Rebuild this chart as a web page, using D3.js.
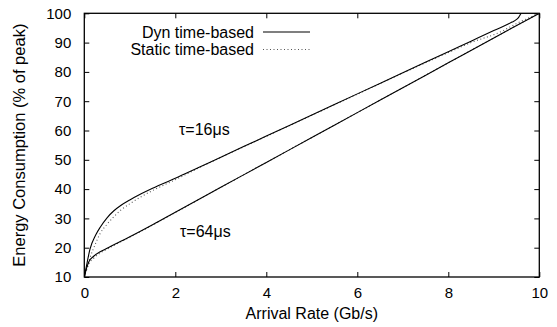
<!DOCTYPE html>
<html>
<head>
<meta charset="utf-8">
<script src="https://cdn.jsdelivr.net/npm/d3@7"></script>
<style>
  body { margin: 0; background: #fff; }
  svg text { font-family: "Liberation Sans", Arial, sans-serif; fill: #000; }
</style>
</head>
<body>
<svg id="chart" width="557" height="327"></svg>
<script>
// arrival rate (Gb/s) vs energy (% of peak)
const dyn16X    = [0, 0.05, 0.125, 0.25, 0.35, 0.5, 0.65, 0.8, 1, 1.25, 1.5, 2, 2.5, 3, 4, 5, 6, 7, 8, 8.5, 9, 9.4, 9.5, 9.55, 9.58, 9.6];
const dyn16Y    = [10, 14, 19.5, 24.3, 27, 30.2, 32.6, 34.4, 36.3, 38.4, 40.3, 43.7, 47.3, 50.9, 58.1, 65.3, 72.5, 79.7, 86.9, 90.5, 94.1, 97.0, 97.9, 98.7, 99.5, 100];
const static16X = [0, 0.05, 0.125, 0.25, 0.35, 0.5, 0.65, 0.8, 1, 1.25, 1.5, 2, 2.5, 3, 4, 5, 6, 7, 8, 8.5, 9.14, 9.5, 10];
const static16Y = [10, 12.5, 16.5, 21.5, 24.9, 28, 30.6, 32.8, 35.0, 37.4, 39.5, 43.2, 47.1, 50.8, 58.0, 65.2, 72.4, 79.6, 86.6, 90.0, 93.6, 96.5, 100];
const dyn64X    = [0, 0.05, 0.1, 0.2, 0.35, 0.5, 0.75, 1, 1.5, 2, 3, 4, 5, 6, 7, 8, 9, 10];
const dyn64Y    = [10, 13, 15.2, 17, 18.6, 19.8, 21.8, 23.7, 27.8, 32.1, 40.6, 49.1, 57.6, 66.1, 74.6, 83.1, 91.6, 100];
const static64X = [0, 0.05, 0.1, 0.2, 0.35, 0.5, 0.75, 1, 1.5, 2, 3, 4, 5, 6, 7, 8, 9, 10];
const static64Y = [10, 12.4, 14.5, 16.3, 18.2, 19.5, 21.6, 23.6, 27.7, 32.0, 40.6, 49.1, 57.6, 66.1, 74.6, 83.1, 91.6, 100];

const xTicks = [0, 2, 4, 6, 8, 10];
const yTicks = [10, 20, 30, 40, 50, 60, 70, 80, 90, 100];
const legendLabels = ['Dyn time-based', 'Static time-based'];

const svg = d3.select('#chart');
const mLeft = 84.3, mRight = 539.3, mTop = 13.3, mBottom = 277;

const x = d3.scaleLinear().domain([0, 10]).range([mLeft, mRight]);
const y = d3.scaleLinear().domain([10, 100]).range([mBottom, mTop]);

svg.append('defs').append('clipPath').attr('id', 'plot')
  .append('rect').attr('x', mLeft).attr('y', mTop)
  .attr('width', mRight - mLeft).attr('height', mBottom - mTop);

// axes, ticks pointing inward, mirrored on top/right
const axisStyle = g => {
  g.select('.domain').remove();
  g.selectAll('text').style('font-size', '15px');
};
svg.append('g').attr('transform', `translate(0,${mBottom})`)
  .call(d3.axisBottom(x).tickValues(xTicks).tickSize(-5).tickPadding(10).tickFormat(d3.format('d')))
  .call(axisStyle);
svg.append('g').attr('transform', `translate(${mLeft},0)`)
  .call(d3.axisLeft(y).tickValues(yTicks).tickSize(-5).tickPadding(13).tickFormat(d3.format('d')))
  .call(axisStyle);
svg.append('g').attr('transform', `translate(0,${mTop})`)
  .call(d3.axisTop(x).tickValues(xTicks).tickSize(-5).tickFormat(''))
  .call(axisStyle);
svg.append('g').attr('transform', `translate(${mRight},0)`)
  .call(d3.axisRight(y).tickValues(yTicks).tickSize(-5).tickFormat(''))
  .call(axisStyle);

svg.append('rect').attr('x', mLeft).attr('y', mTop)
  .attr('width', mRight - mLeft).attr('height', mBottom - mTop)
  .attr('fill', 'none').attr('stroke', '#000').attr('stroke-width', 1.3);

const line = d3.line().x(d => x(d[0])).y(d => y(d[1])).curve(d3.curveMonotoneX);
const zip = (a, b) => a.map((v, i) => [v, b[i]]);

const series = [
  { data: zip(static16X, static16Y), dash: '1,2.5', color: '#555' },
  { data: zip(static64X, static64Y), dash: '1,2.5', color: '#555' },
  { data: zip(dyn16X, dyn16Y), dash: null, color: '#000' },
  { data: zip(dyn64X, dyn64Y), dash: null, color: '#000' },
];
svg.append('g').attr('clip-path', 'url(#plot)')
  .selectAll('path').data(series).join('path')
  .attr('d', d => line(d.data))
  .attr('fill', 'none')
  .attr('stroke', d => d.color)
  .attr('stroke-width', 1.1)
  .attr('stroke-dasharray', d => d.dash);

// legend
const lg = svg.append('g');
legendLabels.forEach((t, i) => {
  const ly = 32 + i * 17.5;
  lg.append('text').attr('x', 254).attr('y', ly + 5.5)
    .attr('text-anchor', 'end').style('font-size', '16px').text(t);
  lg.append('line').attr('x1', 263).attr('x2', 310).attr('y1', ly).attr('y2', ly)
    .attr('stroke', i ? '#555' : '#000').attr('stroke-width', 1.1)
    .attr('stroke-dasharray', i ? '1,2.5' : null);
});

// annotations
svg.append('text').attr('x', 179).attr('y', 135).style('font-size', '16px').text('τ=16μs');
svg.append('text').attr('x', 180).attr('y', 237).style('font-size', '16px').text('τ=64μs');

// axis titles
svg.append('text').attr('x', (mLeft + mRight) / 2).attr('y', 319)
  .attr('text-anchor', 'middle').style('font-size', '16px').text('Arrival Rate (Gb/s)');
svg.append('text').attr('transform', `translate(25,${(mTop + mBottom) / 2}) rotate(-90)`)
  .attr('text-anchor', 'middle').style('font-size', '16.5px').text('Energy Consumption (% of peak)');
</script>
</body>
</html>
